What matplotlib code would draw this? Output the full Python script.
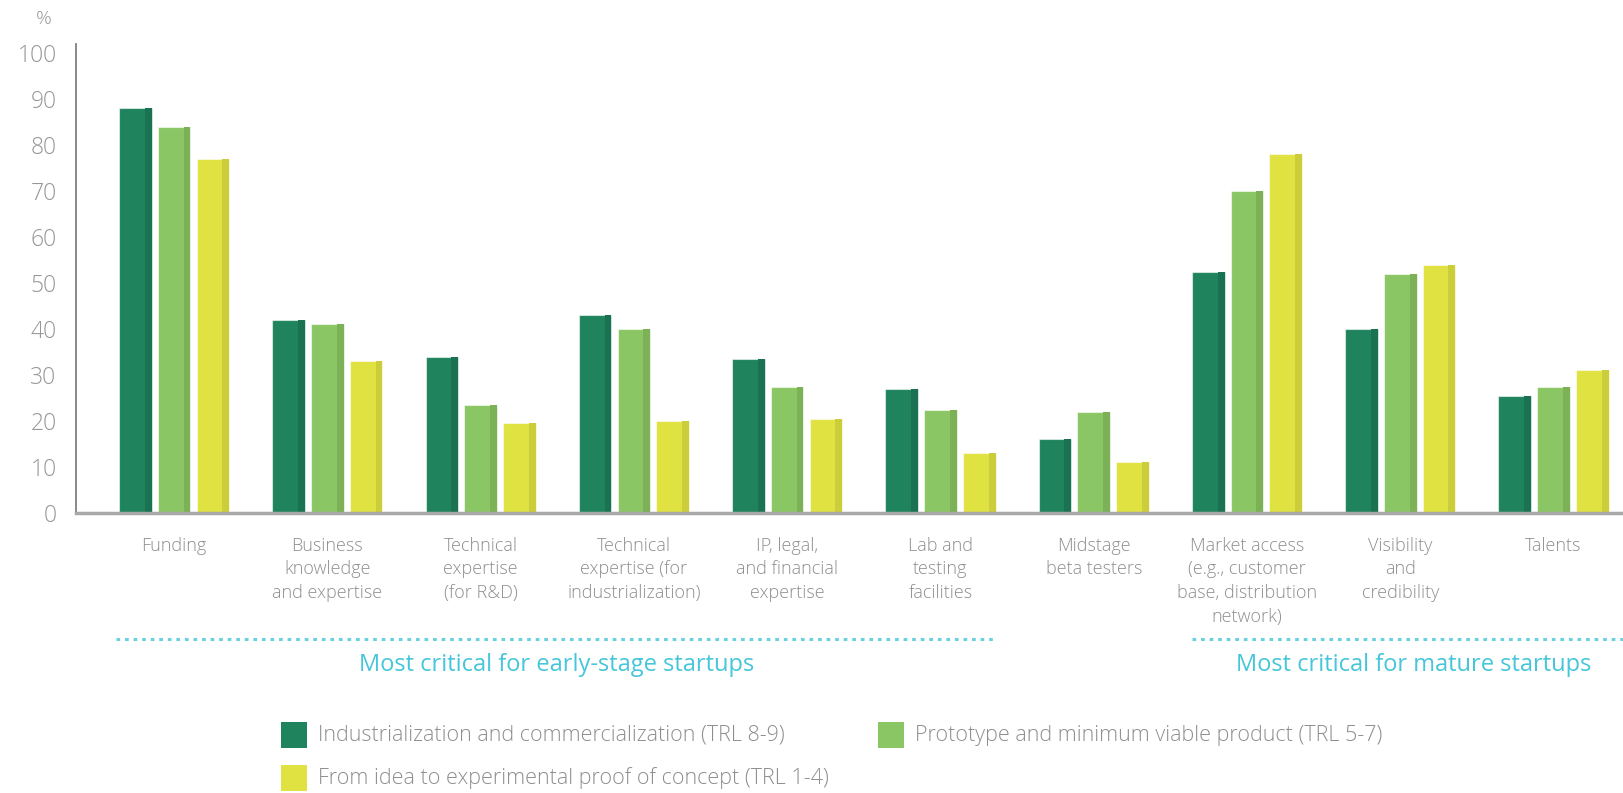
import matplotlib
matplotlib.use("Agg")
import matplotlib.pyplot as plt
import numpy as np
from matplotlib.patches import Rectangle

categories = [
    "Funding",
    "Business\nknowledge\nand expertise",
    "Technical\nexpertise\n(for R&D)",
    "Technical\nexpertise (for\nindustrialization)",
    "IP, legal,\nand financial\nexpertise",
    "Lab and\ntesting\nfacilities",
    "Midstage\nbeta testers",
    "Market access\n(e.g., customer\nbase, distribution\nnetwork)",
    "Visibility\nand\ncredibility",
    "Talents",
]
series_names = [
    "Industrialization and commercialization (TRL 8-9)",
    "Prototype and minimum viable product (TRL 5-7)",
    "From idea to experimental proof of concept (TRL 1-4)",
]
industrialization = [88, 42, 34, 43, 33.5, 27, 16, 52.5, 40, 25.5]
prototype = [84, 41, 23.5, 40, 27.5, 22.5, 22, 70, 52, 27.5]
idea = [77, 33, 19.5, 20, 20.5, 13, 11, 78, 54, 31]
yticks = [0, 10, 20, 30, 40, 50, 60, 70, 80, 90, 100]

colors = ["#1f845e", "#8bc664", "#dfe241"]
shades = ["#1b7253", "#7cb158", "#cbce3a"]
TEXT_GRAY = "#8e8e8e"
CYAN = "#45c6da"
FONT = ["Open Sans", "DejaVu Sans"]
plt.rcParams["font.family"] = FONT

W, H = 1624, 793
fig = plt.figure(figsize=(W / 100, H / 100), dpi=100)

def fx(px):
    return px / W

def fy(py):
    return 1 - py / H

ax_left, ax_right, ax_top, ax_bottom = 76, 1624, 43.8, 513
ax = fig.add_axes([fx(ax_left), fy(ax_bottom), fx(ax_right - ax_left), (ax_bottom - ax_top) / H])

x = np.arange(len(categories))
bw = 0.213
offsets = [-0.253, 0.0, 0.253]
strip = 0.21 * bw
for vals, off, c, s in zip([industrialization, prototype, idea], offsets, colors, shades):
    ax.bar(x + off, vals, width=bw, color=c, edgecolor=(1, 1, 1, 0.55), linewidth=0.8, zorder=2)
    ax.bar(x + off + bw / 2 - strip / 2, vals, width=strip, color=s, linewidth=0, zorder=3)

ax.set_xlim(-0.64, 9.46)
ax.set_ylim(0, 102)
ax.set_yticks(yticks)
ax.set_yticklabels([str(t) for t in yticks], fontsize=16.5, color="#969696", fontweight="light")
ax.set_xticks(x)
ax.set_xticklabels(categories, fontsize=13, color=TEXT_GRAY, linespacing=1.42, va="top", fontweight="light")
ax.tick_params(axis="y", length=0, pad=14)
ax.tick_params(axis="x", length=0, pad=17)
for sp in ["top", "right"]:
    ax.spines[sp].set_visible(False)
ax.spines["left"].set_color("#808080")
ax.spines["left"].set_linewidth(1.3)
ax.spines["bottom"].set_color("#a8a8a8")
ax.spines["bottom"].set_linewidth(2.5)
ax.spines["bottom"].set_zorder(4)

fig.text(fx(44), fy(19), "%", fontsize=14, color="#969696", ha="center", va="center", fontweight="light")

# dotted group lines and captions
for (x0, x1, cx, label) in [(116, 994, 557, "Most critical for early-stage startups"),
                            (1192, 1624, 1414, "Most critical for mature startups")]:
    fig.add_artist(plt.Line2D([fx(x0), fx(x1)], [fy(638.5), fy(638.5)], transform=fig.transFigure,
                              color=CYAN, linewidth=2.2, linestyle=(0, (1.2, 1.6)), alpha=0.8))
    fig.text(fx(cx), fy(665), label, fontsize=17, color=CYAN, ha="center", va="center")

# legend
leg = [(281, 735, 0), (878, 735, 1), (281, 778, 2)]
for (lx, ly, i) in leg:
    fig.add_artist(Rectangle((fx(lx), fy(ly + 13)), fx(26), 26 / H, transform=fig.transFigure,
                             facecolor=colors[i], edgecolor="none"))
    fig.text(fx(lx + 37), fy(ly), series_names[i], fontsize=15.5, color=TEXT_GRAY,
             ha="left", va="center", fontweight="light")

fig.savefig("out.png", dpi=100, facecolor="white")
